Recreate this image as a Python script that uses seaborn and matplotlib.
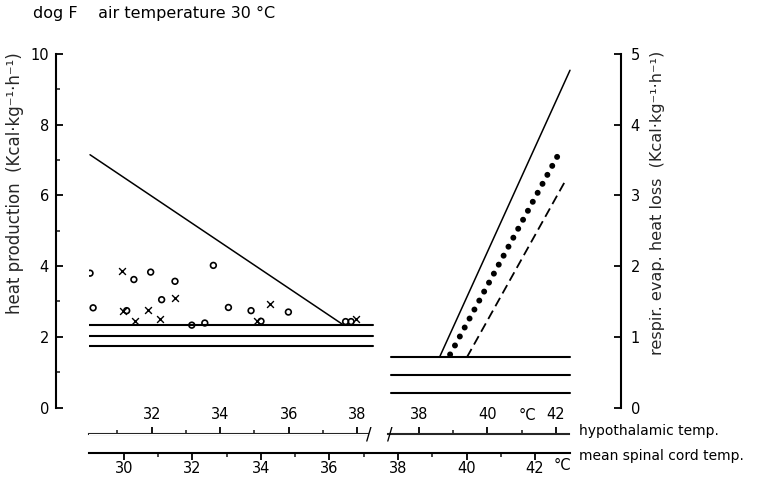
import numpy as np
import pandas as pd
import seaborn as sns
import matplotlib.pyplot as plt
from matplotlib.ticker import FixedLocator

# x values are mean spinal cord temperature (deg C)
# heat production points (Kcal/kg/h)
circ_temp = [29.01, 29.10, 30.08, 30.29, 30.78, 31.10, 31.49, 32.61,
             31.98, 32.36, 33.05, 33.71, 34.00, 34.80, 36.47, 36.63]
circ_heat = [3.80, 2.82, 2.74, 3.62, 3.83, 3.05, 3.57, 4.02,
             2.33, 2.39, 2.83, 2.74, 2.44, 2.70, 2.43, 2.43]
cross_temp = [29.95, 29.96, 30.32, 30.71, 31.05, 31.49, 33.89, 34.26, 36.77]
cross_heat = [3.85, 2.74, 2.44, 2.77, 2.49, 3.10, 2.44, 2.93, 2.51]

# regression line of heat production
hp_line_temp = [29.01, 36.40]
hp_line_heat = [7.15, 2.34]

# resting level of heat production, mean +- sd
hp_mean = 2.03
hp_sd = 0.29
hp_range = [28.98, 37.26]

# respiratory evaporative heat loss (right axis)
ev_mean = 0.455
ev_sd = 0.255
ev_range = [37.80, 43.02]
ev_solid_temp = [39.21, 43.02]
ev_solid_loss = [0.71, 4.77]
ev_dot_temp = [39.52, 42.75]
ev_dot_loss = [0.75, 3.64]
ev_dash_temp = [40.01, 42.90]
ev_dash_loss = [0.71, 3.22]

# hypothalamic temp offsets relative to spinal temp (two segments)
hyp_off_left = 1.19
hyp_off_right = -0.61

sns.set_theme(style='ticks')
plt.rcParams['font.family'] = ['DejaVu Sans']

W, H = 767, 484
fig = plt.figure(figsize=(W / 100, H / 100), dpi=100)
ax_l, ax_r, ax_b, ax_t = 89, 570, 407.5, 54
ax = fig.add_axes([ax_l / W, 1 - ax_b / H, (ax_r - ax_l) / W, (ax_b - ax_t) / H])
ax.set_facecolor('none')
ax2 = ax.twinx()
ax.set_xlim(28.98, 43.02)
ax.set_ylim(0, 10)
ax2.set_ylim(0, 5)

k = 'black'
lw_ax = 1.5

# left panel
df_c = pd.DataFrame({'temp': circ_temp, 'heat': circ_heat})
df_x = pd.DataFrame({'temp': cross_temp, 'heat': cross_heat})
sns.scatterplot(data=df_c, x='temp', y='heat', ax=ax, marker='o', s=17,
                facecolors='none', edgecolor=k, linewidth=1.2, zorder=3)
sns.scatterplot(data=df_x, x='temp', y='heat', ax=ax, marker='x', s=24,
                color=k, linewidth=1.0, zorder=3)
sns.lineplot(x=hp_line_temp, y=hp_line_heat, ax=ax, color=k, lw=1.1,
             estimator=None, errorbar=None)
for lvl in [hp_mean + hp_sd, hp_mean, hp_mean - hp_sd]:
    sns.lineplot(x=hp_range, y=[lvl, lvl], ax=ax, color=k, lw=1.5,
                 estimator=None, errorbar=None)

# right panel
for lvl in [ev_mean + ev_sd, ev_mean, ev_mean - ev_sd]:
    sns.lineplot(x=ev_range, y=[lvl, lvl], ax=ax2, color=k, lw=1.5,
                 estimator=None, errorbar=None, clip_on=False)
sns.lineplot(x=ev_solid_temp, y=ev_solid_loss, ax=ax2, color=k, lw=1.1,
             estimator=None, errorbar=None, clip_on=False)
sns.lineplot(x=ev_dot_temp, y=ev_dot_loss, ax=ax2, color=k,
             estimator=None, errorbar=None)
dots = ax2.lines[-1]
dots.set_linewidth(4.3)
dots.set_linestyle((0, (0.01, 1.7)))
dots.set_dash_capstyle('round')
sns.lineplot(x=ev_dash_temp, y=ev_dash_loss, ax=ax2, color=k, lw=1.3,
             linestyle=(0, (5.3, 2.8)), estimator=None, errorbar=None)

ax.set_xlabel('')
ax2.set_xlabel('')

# spines
px = 0.72
for a in (ax, ax2):
    for s in a.spines.values():
        s.set_visible(False)
        s.set_linewidth(lw_ax)
        s.set_color(k)
ax.spines['left'].set_visible(True)
ax.spines['left'].set_position(('outward', 33 * px))
ax.spines['bottom'].set_visible(True)
ax.spines['bottom'].set_position(('outward', 45 * px))
ax2.spines['right'].set_visible(True)
ax2.spines['right'].set_position(('outward', 51 * px))

fs_tick = 10.5
ax.set_yticks([0, 2, 4, 6, 8, 10])
ax.yaxis.set_minor_locator(FixedLocator([1, 3, 5, 7, 9]))
ax.tick_params(axis='y', which='major', direction='in', length=5, width=1.3,
               pad=5, labelsize=fs_tick, colors=k)
ax.tick_params(axis='y', which='minor', direction='in', length=3, width=1.2)
ax2.set_yticks([0, 1, 2, 3, 4, 5])
ax2.tick_params(axis='y', direction='in', length=5, width=1.3, pad=7,
                labelsize=fs_tick, colors=k)

# mean spinal cord temp axis
ax.set_xticks([30, 32, 34, 36, 38, 40, 42])
ax.xaxis.set_minor_locator(FixedLocator([31, 33, 35, 37, 39, 41]))
ax.tick_params(axis='x', which='major', direction='out', length=5, width=1.3,
               pad=1, labelsize=fs_tick, colors=k)
ax.tick_params(axis='x', which='minor', direction='out', length=3, width=1.2)

# hypothalamic temp axis, broken in two parts
hyp_y = 434.5
loc = (ax_b - hyp_y) / (ax_b - ax_t)
hyp_left = ax.secondary_xaxis(loc, functions=(lambda s: s + hyp_off_left,
                                              lambda h: h - hyp_off_left))
hyp_right = ax.secondary_xaxis(loc, functions=(lambda s: s + hyp_off_right,
                                               lambda h: h - hyp_off_right))
for sec, bounds, major, minor in [(hyp_left, (30.17, 38.31), [32, 34, 36, 38], [31, 33, 35, 37]),
                                  (hyp_right, (37.10, 42.38), [38, 40, 42], [39, 41])]:
    sec.set_alignment('top')
    sec.spines['top'].set_bounds(*bounds)
    sec.spines['top'].set_linewidth(lw_ax)
    sec.set_xticks(major)
    sec.xaxis.set_minor_locator(FixedLocator(minor))
    sec.tick_params(axis='x', which='major', direction='out', length=5, width=1.3,
                    pad=4, labelsize=fs_tick, colors=k)
    sec.tick_params(axis='x', which='minor', direction='out', length=3, width=1.2)

# axis labels
unit = '(Kcal·kg⁻¹·h⁻¹)'
ax.set_ylabel('heat production  ' + unit, fontsize=12)
ax.yaxis.set_label_coords((24 - ax_l) / (ax_r - ax_l), (ax_b - 183) / (ax_b - ax_t))
ax2.set_ylabel('respir. evap. heat loss  ' + unit, fontsize=11.6)
ax2.yaxis.set_label_coords((650 - ax_l) / (ax_r - ax_l), (ax_b - 203) / (ax_b - ax_t))


def ftext(x, y, s, **kw):
    fig.text(x / W, 1 - y / H, s, color=k, **kw)


ftext(33, 13, 'dog F    air temperature 30 °C', fontsize=11.5, va='center')
ftext(579, 431, 'hypothalamic temp.', fontsize=10, va='center')
ftext(579, 456, 'mean spinal cord temp.', fontsize=10, va='center')
ftext(527, 415, '°C', fontsize=fs_tick, va='center', ha='center')
ftext(562, 466, '°C', fontsize=fs_tick, va='center', ha='center')
ftext(369, hyp_y, '/', fontsize=12, va='center', ha='center')
ftext(390, hyp_y, '/', fontsize=12, va='center', ha='center')

fig.savefig('out.png', dpi=100)
